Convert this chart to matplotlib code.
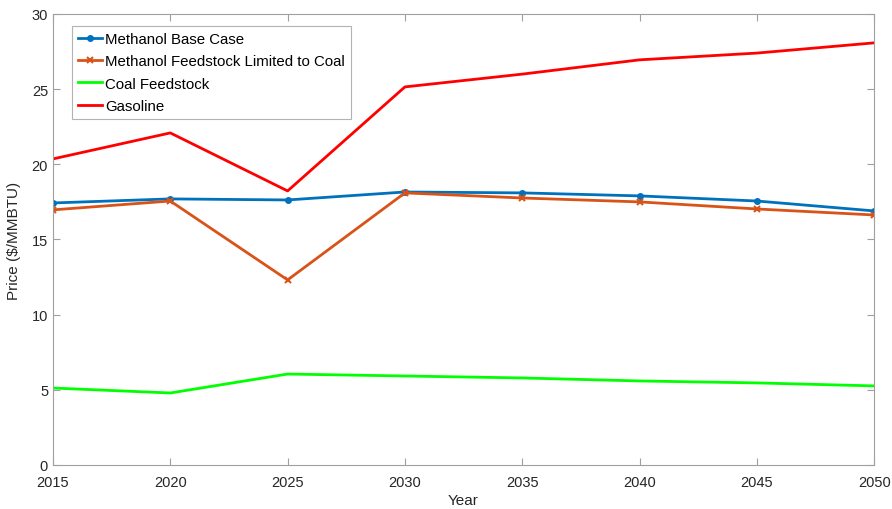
import matplotlib
matplotlib.use("Agg")
import matplotlib.pyplot as plt

plt.rcParams['font.family'] = ['Liberation Sans', 'DejaVu Sans']

years = [2015, 2020, 2025, 2030, 2035, 2040, 2045, 2050]
methanol_base = [17.43, 17.70, 17.63, 18.16, 18.10, 17.90, 17.56, 16.90]
methanol_coal = [16.97, 17.56, 12.31, 18.10, 17.76, 17.50, 17.03, 16.63]
coal_feedstock = [5.12, 4.79, 6.05, 5.92, 5.79, 5.59, 5.46, 5.26]
gasoline = [20.36, 22.09, 18.23, 25.15, 26.00, 26.95, 27.40, 28.08]

xticks = [2015, 2020, 2025, 2030, 2035, 2040, 2045, 2050]
yticks = [0, 5, 10, 15, 20, 25, 30]

fig = plt.figure(figsize=(8.92, 5.10), dpi=100)
ax = fig.add_axes([0.0594, 0.0863, 0.9206, 0.8843])

ax.plot(years, methanol_base, color='#0072BD', lw=2, marker='o', ms=4,
        label='Methanol Base Case')
ax.plot(years, methanol_coal, color='#D95319', lw=2, marker='x', ms=4, mew=1.5,
        label='Methanol Feedstock Limited to Coal')
ax.plot(years, coal_feedstock, color='#00FF00', lw=2, label='Coal Feedstock')
ax.plot(years, gasoline, color='#FF0000', lw=2, label='Gasoline')

ax.set_xlim(2015, 2050)
ax.set_ylim(0, 30)
ax.set_xticks(xticks)
ax.set_yticks(yticks)
ax.tick_params(direction='in', length=5, width=0.8, color='#A0A0A0',
               labelsize=10.5, labelcolor='#262626', top=True, right=True)
ax.tick_params(axis='x', pad=7)
for s in ax.spines.values():
    s.set_color('#A0A0A0')
    s.set_linewidth(0.8)

ax.set_xlabel('Year', fontsize=11, color='#262626', labelpad=3)
ax.set_ylabel('Price ($/MMBTU)', fontsize=11, color='#262626', labelpad=8)

leg = ax.legend(loc='upper left', bbox_to_anchor=(0.023, 0.973), fontsize=10.8,
                frameon=True, fancybox=False, edgecolor='#A0A0A0',
                handlelength=1.6, handletextpad=0.2, labelspacing=0.55,
                borderpad=0.4, borderaxespad=0)
leg.get_frame().set_linewidth(0.8)

fig.savefig('out.png', dpi=100)
